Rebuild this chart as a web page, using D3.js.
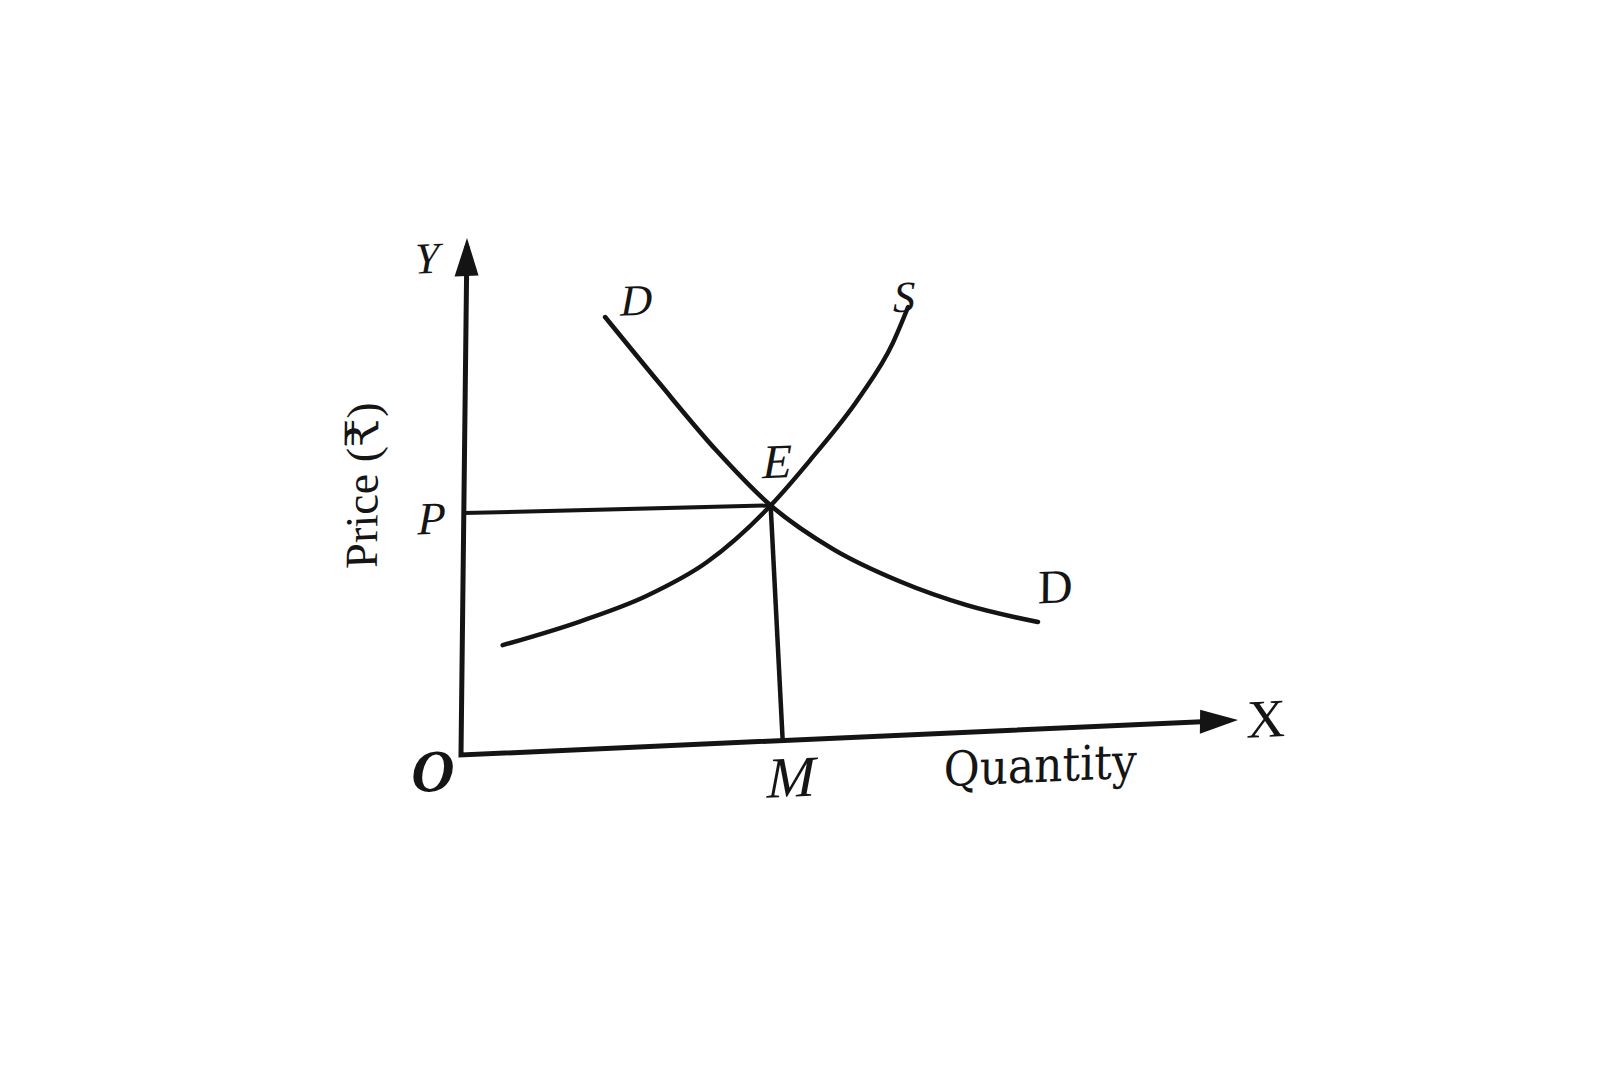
<!DOCTYPE html>
<html>
<head>
<meta charset="utf-8">
<script src="https://cdn.jsdelivr.net/npm/d3@7"></script>
<style>
  body { margin: 0; background: #fff; }
  text { font-family: "Liberation Serif", "DejaVu Serif", serif; fill: #151515; }
</style>
</head>
<body>
<svg id="chart" width="1600" height="1068"></svg>
<script>
// curve points (quantity, price) on a 0-100 scale
var demandPts = [[17.9, 83.5], [25.0, 70.2], [32.5, 56.6], [39.5, 45.6], [47.6, 36.6], [56.2, 29.8], [64.9, 24.6], [74.1, 20.7]];
var supplyPts = [[5.2, 20.9], [15.1, 24.8], [23.7, 29.2], [31.4, 35.2], [39.5, 45.6], [44.5, 54.0], [50.8, 65.8], [55.0, 76.0], [56.9, 82.8]];
var eqPoint = [39.5, 45.6];   // E
var priceP = 46.8;            // P on the price axis
var quantityM = 41.4;         // M on the quantity axis
var axisMax = 100;

var svg = d3.select("#chart"),
    width = +svg.attr("width"),
    height = +svg.attr("height");

svg.append("rect").attr("width", width).attr("height", height).attr("fill", "#fff");

// scanned page is a bit skewed, so the whole figure sits in a slanted frame
var g = svg.append("g")
    .attr("transform", "matrix(1,-0.045,-0.0116,1,461,755)");

var x = d3.scaleLinear().domain([0, axisMax]).range([0, 777]);
var y = d3.scaleLinear().domain([0, axisMax]).range([0, -517]);

var ink = "#141414";

svg.append("defs").append("marker")
    .attr("id", "arrow")
    .attr("viewBox", "-40 -14 42 28")
    .attr("markerUnits", "userSpaceOnUse")
    .attr("markerWidth", 42)
    .attr("markerHeight", 28)
    .attr("refX", -8)
    .attr("refY", 0)
    .attr("orient", "auto-start-reverse")
  .append("path")
    .attr("d", "M-38,-12L0,0L-38,12Z")
    .attr("fill", ink);

// axes
g.append("path")
    .attr("d", "M" + x(0) + "," + (y(axisMax) + 8) +
               "L" + x(0) + "," + y(0) +
               "L" + (x(axisMax) - 8) + "," + y(0))
    .attr("fill", "none")
    .attr("stroke", ink)
    .attr("stroke-width", 5)
    .attr("stroke-linejoin", "miter")
    .attr("marker-start", "url(#arrow)")
    .attr("marker-end", "url(#arrow)");

// guide lines P-E and E-M
g.append("line")
    .attr("x1", x(0)).attr("y1", y(priceP))
    .attr("x2", x(eqPoint[0])).attr("y2", y(eqPoint[1]))
    .attr("stroke", ink).attr("stroke-width", 4);

g.append("line")
    .attr("x1", x(eqPoint[0])).attr("y1", y(eqPoint[1]))
    .attr("x2", x(quantityM)).attr("y2", y(0))
    .attr("stroke", ink).attr("stroke-width", 4.5);

var line = d3.line()
    .x(function(d) { return x(d[0]); })
    .y(function(d) { return y(d[1]); })
    .curve(d3.curveMonotoneX);

g.append("path").datum(demandPts)
    .attr("d", line)
    .attr("fill", "none").attr("stroke", ink).attr("stroke-width", 4.5)
    .attr("stroke-linecap", "round");

g.append("path").datum(supplyPts)
    .attr("d", line)
    .attr("fill", "none").attr("stroke", ink).attr("stroke-width", 4.5)
    .attr("stroke-linecap", "round");

// labels
function label(px, py, txt, size, italic, dx, dy) {
  return g.append("text")
      .attr("x", px + dx)
      .attr("y", py + dy)
      .attr("text-anchor", "middle")
      .attr("dominant-baseline", "central")
      .attr("font-size", size)
      .attr("font-style", italic ? "italic" : "normal")
      .text(txt);
}

var dFirst = demandPts[0], dLast = demandPts[demandPts.length - 1];
var sLast = supplyPts[supplyPts.length - 1];

label(x(0), y(axisMax), "Y", 44, true, -40, 19);
label(x(0), y(priceP), "P", 46, true, -32, 4);
label(x(0), y(0), "O", 60, true, -28, 15).attr("font-weight", "bold");
label(x(quantityM), y(0), "M", 58, true, 9, 37);
label(x(axisMax), y(0), "X", 54, false, 28, 0);
label(x(74.6), y(0), "Quantity", 48, false, 0, 36)
    .style("font-family", "'DejaVu Serif', serif")
    .attr("textLength", 193).attr("lengthAdjust", "spacingAndGlyphs");
label(x(dFirst[0]), y(dFirst[1]), "D", 44, true, 31, -15);
label(x(sLast[0]), y(sLast[1]), "S", 44, true, -4, -10);
label(x(eqPoint[0]), y(eqPoint[1]), "E", 48, true, 6, -44);
label(x(dLast[0]), y(dLast[1]), "D", 48, false, 17, -35);

g.append("text")
    .attr("transform", "translate(" + (x(0) - 102) + "," + y(53) + ") rotate(-90)")
    .attr("text-anchor", "middle")
    .attr("dominant-baseline", "central")
    .attr("font-size", 46)
    .text("Price (₹)");
</script>
</body>
</html>
